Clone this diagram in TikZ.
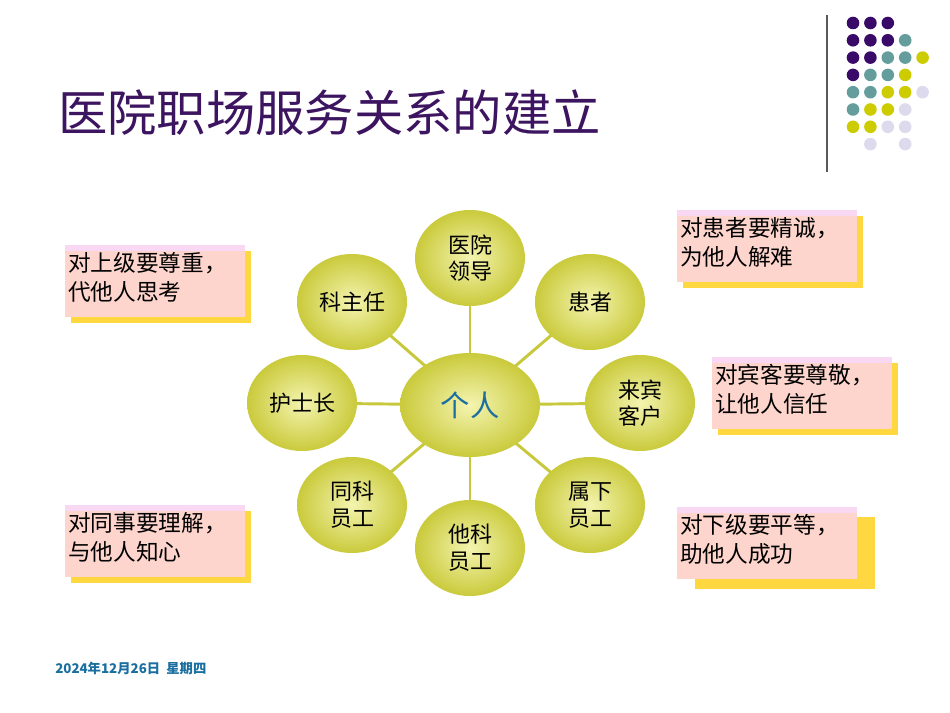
\documentclass[tikz,border=0pt]{standalone}
\usepackage{fontspec}
\usetikzlibrary{shapes.geometric,backgrounds}
\newfontfamily\cjk{Noto Sans CJK SC}
\definecolor{ttl}{HTML}{3C1460}
\definecolor{dP}{HTML}{3A0A68}
\definecolor{dT}{HTML}{659C9C}
\definecolor{dY}{HTML}{CCCC00}
\definecolor{dL}{HTML}{DCDAEC}
\definecolor{dN}{HTML}{FFFFFF}
\definecolor{ballin}{HTML}{F4F4B0}
\definecolor{ballout}{HTML}{CACA3C}
\definecolor{conn}{HTML}{C8C83C}
\definecolor{pinkA}{HTML}{F9D8F4}
\definecolor{pinkB}{HTML}{FDD5CC}
\definecolor{shad}{HTML}{FFD740}
\definecolor{blu}{HTML}{1A6FA0}
\begin{document}
\begin{tikzpicture}[x=0.75pt,y=-0.75pt,
  ballnode/.style={ellipse,inner sep=0pt,draw=none,inner color=ballin,outer color=ballout,font=\cjk\fontsize{16.5}{20}\selectfont,align=center},
  sm/.style={ballnode,minimum width=82.5pt,minimum height=72pt},
  conline/.style={draw=conn,line width=2.2pt},
  boxtxt/.style={font=\cjk\fontsize{17}{22}\selectfont,align=left,anchor=north west,inner sep=0pt}]
\useasboundingbox (0,0) rectangle (950,713);
% decoration
\draw[gray!70!black,line width=1pt] (827,15) -- (827,172);
\foreach \row/\cols in {0/{P,P,P,N,N},1/{P,P,P,T,N},2/{P,P,T,T,Y},3/{P,T,T,Y,N},4/{T,T,Y,Y,L},5/{T,Y,Y,L,N},6/{Y,Y,L,L,N},7/{N,L,N,L,N}}{
  \foreach \c [count=\i from 0] in \cols {
    \fill[d\c] (853+17.4*\i,23+17.3*\row) circle (6.3);
  }}
\node[anchor=west,text=ttl,font=\cjk\fontsize{37}{40}\selectfont,inner sep=0pt] (title) at (58,113) {医院职场服务关系的建立};
% nodes
\node[ballnode,minimum width=105pt,minimum height=78pt] (c) at (470,405) {\textcolor{blu}{\fontsize{22}{24}\selectfont 个人}};
\node[sm] (n1) at (470,258) {医院\\领导};
\node[sm] (n2) at (590,302) {患者};
\node[sm] (n3) at (640,403) {来宾\\客户};
\node[sm] (n4) at (590,505) {属下\\员工};
\node[sm] (n5) at (470,548) {他科\\员工};
\node[sm] (n6) at (352,505) {同科\\员工};
\node[sm] (n7) at (302,403) {护士长};
\node[sm] (n8) at (352,302) {科主任};
\begin{scope}[on background layer]
\fill[white] (0,0) rectangle (950,713);
\foreach \n in {n1,n2,n3,n4,n5,n6,n7,n8}{\draw[conline,shorten <=-3pt,shorten >=-3pt] (c) -- (\n);}
\end{scope}
% boxes
\foreach \x/\y/\dx/\dy/\name/\t in {
  65/245/6/6/b1/{对上级要尊重，\\代他人思考},
  677/210/6/6/b2/{对患者要精诚，\\为他人解难},
  712/357/6/6/b3/{对宾客要尊敬，\\让他人信任},
  65/505/6/6/b4/{对同事要理解，\\与他人知心},
  677/507/18/10/b5/{对下级要平等，\\助他人成功}}{
  \fill[shad] (\x+\dx,\y+\dy) rectangle (\x+180+\dx,\y+72+\dy);
  \fill[pinkA] (\x,\y) rectangle (\x+180,\y+72);
  \fill[pinkB] (\x,\y+6) rectangle (\x+180,\y+72);
  \node[boxtxt] (\name) at (\x+3,\y+7) {\t};
}
\node[anchor=west,text=blu,font=\cjk\bfseries\fontsize{10}{12}\selectfont,inner sep=0pt] (date) at (55,668) {2024年12月26日\ \ 星期四};
\end{tikzpicture}
\end{document}
